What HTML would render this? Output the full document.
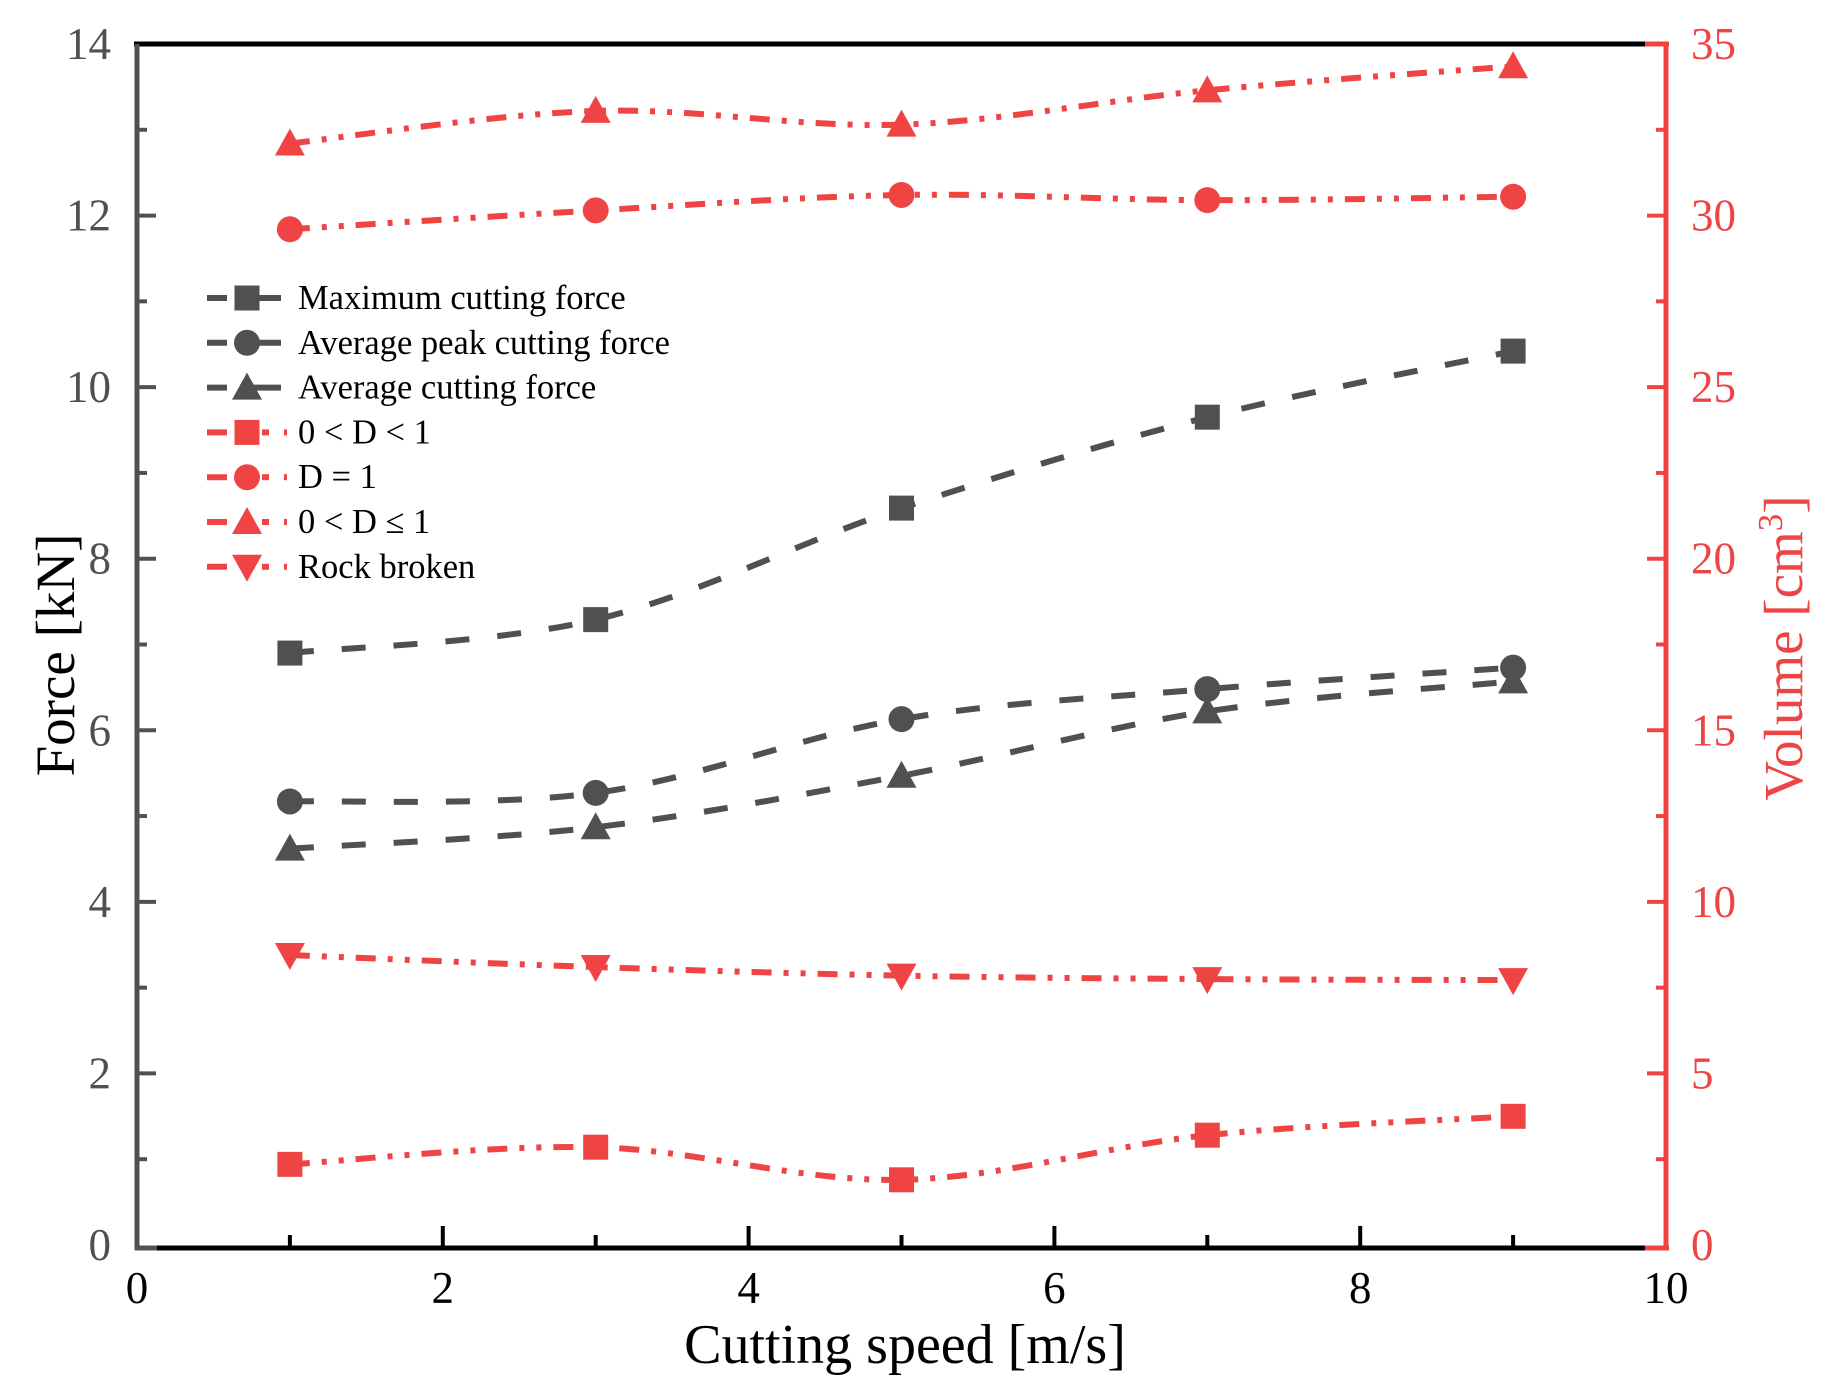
<!DOCTYPE html>
<html><head><meta charset="utf-8"><style>
html,body{margin:0;padding:0;background:#fff}
svg{display:block}
text{font-family:"Liberation Serif",serif}
</style></head><body>
<svg id="chart" width="1822" height="1397" viewBox="0 0 1822 1397" xmlns="http://www.w3.org/2000/svg">
</svg>
<script>
const speeds=[1,3,5,7,9];
const maxForce=[6.9,7.29,8.59,9.65,10.42];
const avgPeakForce=[5.17,5.27,6.13,6.48,6.73];
const avgForce=[4.62,4.87,5.47,6.22,6.57];
const volPartial=[2.35,2.85,1.9,3.2,3.75];
const volD1=[29.6,30.15,30.6,30.45,30.55];
const volTri=[32.1,33.05,32.65,33.65,34.35];
const volRock=[8.45,8.1,7.85,7.75,7.72];
const xTicks=[0,2,4,6,8,10];
const yTicks=[0,2,4,6,8,10,12,14];
const y2Ticks=[0,5,10,15,20,25,30,35];

const L=137,R=1666,T=44,B=1245;
const xS=v=>L+(v-0)/10*(R-L);
const yS=v=>B-(v/14)*(B-T);
const y2S=v=>B-(v/35)*(B-T);
const NS='http://www.w3.org/2000/svg';
const svg=document.getElementById('chart');
const GRAY='#505050',RED='#f04444';
function mk(tag,attrs,parent){const e=document.createElementNS(NS,tag);for(const k in attrs)e.setAttribute(k,attrs[k]);(parent||svg).appendChild(e);return e;}

let e;
e=mk('line',{x1:L-3,y1:T,x2:R,y2:T,stroke:'#000','stroke-width':5});


e=mk('line',{x1:L,y1:B+3,x2:R,y2:B+3,stroke:'#000','stroke-width':5});


e=mk('line',{x1:R-21,y1:B+3,x2:R+3,y2:B+3,stroke:RED,'stroke-width':5});


e=mk('line',{x1:R-21,y1:T,x2:R+3,y2:T,stroke:RED,'stroke-width':5});


e=mk('line',{x1:L,y1:T,x2:L,y2:B+5,stroke:GRAY,'stroke-width':5});


e=mk('line',{x1:L-2,y1:B+3,x2:L+20,y2:B+3,stroke:GRAY,'stroke-width':5});


e=mk('line',{x1:R,y1:T-2,x2:R,y2:B+5,stroke:RED,'stroke-width':5});



for(let v=1;v<10;v++){
  const maj=v%2===0;
  e=mk('line',{x1:xS(v),y1:B+1,x2:xS(v),y2:B-(maj?19:10),stroke:'#000','stroke-width':4});
  
  
}
xTicks.forEach(v=>{
  e=mk('text',{x:xS(v),y:1303,'text-anchor':'middle','font-size':45,fill:'#000'});
  e.textContent=v;
  
  
});
for(let v=1;v<14;v++){
  const maj=v%2===0;
  e=mk('line',{x1:L,y1:yS(v),x2:L+(maj?19:10),y2:yS(v),stroke:GRAY,'stroke-width':4});
  
  
}
yTicks.forEach(v=>{
  e=mk('text',{x:111,y:yS(v)+15,'text-anchor':'end','font-size':45,fill:GRAY});
  e.textContent=v;
  
  
});
for(let i=1;i<14;i++){
  const v=i*2.5, maj=i%2===0;
  e=mk('line',{x1:R,y1:y2S(v),x2:R-(maj?19:10),y2:y2S(v),stroke:RED,'stroke-width':4});
  
  
}
y2Ticks.forEach(v=>{
  e=mk('text',{x:1691,y:y2S(v)+15,'text-anchor':'start','font-size':45,fill:RED});
  e.textContent=v;
  
  
});

e=mk('text',{x:905,y:1363,'text-anchor':'middle','font-size':56,fill:'#000'});
e.textContent='Cutting speed [m/s]';


e=mk('text',{x:0,y:0,'text-anchor':'middle','font-size':55,fill:'#000',transform:'translate(74,655) rotate(-90)'});
e.textContent='Force [kN]';


e=mk('text',{x:0,y:0,'text-anchor':'middle','font-size':55,fill:RED,transform:'translate(1802,648) rotate(-90)'});
e.innerHTML='Volume [cm<tspan dy="-20" font-size="35">3</tspan><tspan dy="20">]</tspan>';



function pathD(pts){
  let d='M'+pts[0][0]+','+pts[0][1];
  for(let i=0;i<pts.length-1;i++){
    const p0=pts[Math.max(i-1,0)],p1=pts[i],p2=pts[i+1],p3=pts[Math.min(i+2,pts.length-1)];
    const c1=[p1[0]+(p2[0]-p0[0])/6,p1[1]+(p2[1]-p0[1])/6];
    const c2=[p2[0]-(p3[0]-p1[0])/6,p2[1]-(p3[1]-p1[1])/6];
    d+=' C'+c1+' '+c2+' '+p2;
  }
  return d;
}
function marker(shape,cx,cy,color,parent){
  if(shape==='sq') return mk('rect',{x:cx-12.5,y:cy-12.5,width:25,height:25,fill:color},parent);
  if(shape==='ci') return mk('circle',{cx:cx,cy:cy,r:13,fill:color},parent);
  if(shape==='tu') return mk('polygon',{points:`${cx},${cy-15} ${cx-15},${cy+12} ${cx+15},${cy+12}`,fill:color},parent);
  return mk('polygon',{points:`${cx},${cy+15} ${cx-15},${cy-12} ${cx+15},${cy-12}`,fill:color},parent);
}
const series=[
  {name:'max-cutting-force',vals:maxForce,sc:yS,shape:'sq',color:GRAY,dash:'24,28'},
  {name:'avg-peak-cutting-force',vals:avgPeakForce,sc:yS,shape:'ci',color:GRAY,dash:'24,28'},
  {name:'avg-cutting-force',vals:avgForce,sc:yS,shape:'tu',color:GRAY,dash:'24,28'},
  {name:'volume-partial',vals:volPartial,sc:y2S,shape:'sq',color:RED,dash:'20,12,5,12,5,12'},
  {name:'volume-d1',vals:volD1,sc:y2S,shape:'ci',color:RED,dash:'20,12,5,12,5,12'},
  {name:'volume-d-le-1',vals:volTri,sc:y2S,shape:'tu',color:RED,dash:'20,12,5,12,5,12'},
  {name:'volume-rock-broken',vals:volRock,sc:y2S,shape:'td',color:RED,dash:'20,12,5,12,5,12'}
];
series.forEach(s=>{
  const g=mk('g',{});
  
  
  const pts=speeds.map((x,i)=>[xS(x),s.sc(s.vals[i])]);
  const p=mk('path',{d:pathD(pts),fill:'none',stroke:s.color,'stroke-width':6,'stroke-dasharray':s.dash},g);
  
  
  pts.forEach(pt=>{
    const m=marker(s.shape,pt[0],pt[1],s.color,g);
    
    
  });
});

const legLabels=['Maximum cutting force','Average peak cutting force','Average cutting force','0 < D < 1','D = 1','0 < D \u2264 1','Rock broken'];
const lg=mk('g',{});


legLabels.forEach((lab,i)=>{
  const s=series[i];const y=298+i*44.8;
  const g=mk('g',{},lg);
  
  
  if(s.color===GRAY){
    mk('line',{x1:207,y1:y,x2:227,y2:y,stroke:GRAY,'stroke-width':6},g);
    mk('line',{x1:240,y1:y,x2:281,y2:y,stroke:GRAY,'stroke-width':6},g);
  }else{
    mk('line',{x1:207,y1:y,x2:227,y2:y,stroke:RED,'stroke-width':6},g);
    mk('line',{x1:262,y1:y,x2:269,y2:y,stroke:RED,'stroke-width':6},g);
    mk('line',{x1:284,y1:y,x2:287,y2:y,stroke:RED,'stroke-width':6},g);
  }
  marker(s.shape,247,y,s.color,g);
  const t=mk('text',{x:298,y:y+11,'font-size':34.5,fill:'#000'},g);
  t.textContent=lab;
});
</script>
</body></html>
